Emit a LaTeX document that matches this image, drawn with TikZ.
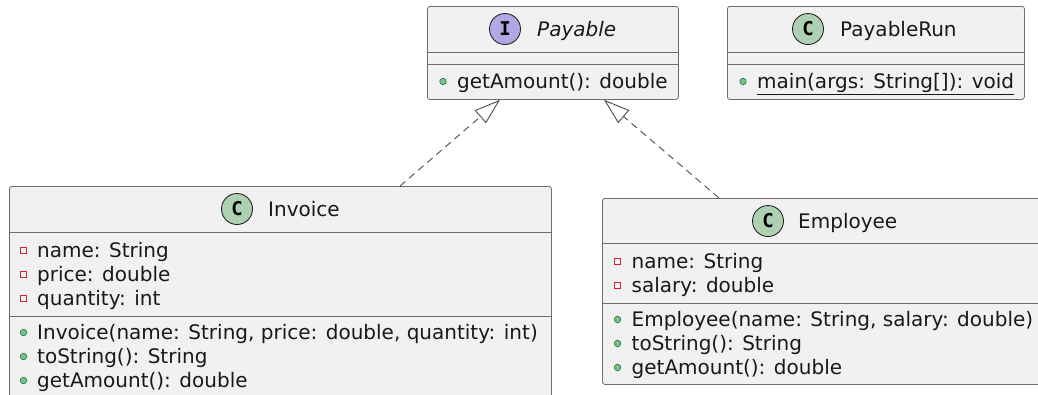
\documentclass[tikz,border=0pt]{standalone}
\usepackage{fontspec}
\setmainfont{DejaVu Sans}
\newfontfamily\iconfont{DejaVu Sans Mono}
\usetikzlibrary{arrows.meta,calc}

\definecolor{boxfill}{HTML}{F1F1F1}
\definecolor{boxline}{HTML}{6E6E6E}
\definecolor{classicon}{HTML}{ADD1B2}
\definecolor{ifaceicon}{HTML}{B4A7E5}
\definecolor{privred}{HTML}{C82930}
\definecolor{pubfill}{HTML}{84BE84}
\definecolor{publine}{HTML}{038048}

\tikzset{
  classbox/.style={draw=boxline, fill=boxfill, line width=0.8pt, rounded corners=2.5pt,
    inner sep=0pt, anchor=north west},
  sepline/.style={draw=boxline, line width=0.8pt},
  txt/.style={inner sep=0pt, anchor=base west, font=\fontsize{20}{24}\selectfont, text=black!90},
  icon/.style={circle, draw=black!85, line width=0.9pt, minimum size=31pt, inner sep=0pt,
    font=\iconfont\bfseries\fontsize{19}{19}\selectfont},
  privmark/.style={draw=privred, line width=0.8pt, minimum size=6.5pt, inner sep=0pt},
  pubmark/.style={circle, draw=publine, fill=pubfill, line width=0.6pt, minimum size=6.5pt, inner sep=0pt},
  realize/.style={draw=black!70, line width=0.9pt, dash pattern=on 7pt off 5pt,
    -{Triangle[open, length=26pt, width=17pt]}},
}

\begin{document}
\begin{tikzpicture}[x=1pt, y=-1pt]
\useasboundingbox (0,0) rectangle (1038,394);
\clip (0,0) rectangle (1038,394);

% --- interface Payable ---
\node[classbox, minimum width=251pt, minimum height=93pt] (pay) at (427,6) {};
\draw[sepline] ([yshift=-46pt]pay.north west) -- ([yshift=-46pt]pay.north east);
\draw[sepline] ([yshift=-58pt]pay.north west) -- ([yshift=-58pt]pay.north east);
\node[icon, fill=ifaceicon] (pay-icon) at (505,29) {I};
\node[txt] (pay-title) at (537,36) {\itshape Payable};
\node[pubmark] (pay-m1-vis) at (443,81.5) {};
\node[txt] (pay-m1) at (457,88) {getAmount(): double};

% --- class PayableRun ---
\node[classbox, minimum width=297pt, minimum height=93pt] (run) at (727,6) {};
\draw[sepline] ([yshift=-46pt]run.north west) -- ([yshift=-46pt]run.north east);
\draw[sepline] ([yshift=-58pt]run.north west) -- ([yshift=-58pt]run.north east);
\node[icon, fill=classicon] (run-icon) at (808,29) {C};
\node[txt] (run-title) at (840,36) {PayableRun};
\node[pubmark] (run-m1-vis) at (743,81.5) {};
\node[txt] (run-m1) at (757,88) {main(args: String[]): void};
\draw[line width=0.9pt, black!90] ([yshift=-6pt]run-m1.base west) -- ([yshift=-6pt]run-m1.base east);

% --- class Invoice ---
\node[classbox, minimum width=542pt, minimum height=211pt] (inv) at (9,186) {};
\draw[sepline] ([yshift=-46pt]inv.north west) -- ([yshift=-46pt]inv.north east);
\draw[sepline] ([yshift=-130pt]inv.north west) -- ([yshift=-130pt]inv.north east);
\node[icon, fill=classicon] (inv-icon) at (237,209) {C};
\node[txt] (inv-title) at (268,216) {Invoice};
\node[privmark] (inv-a1-vis) at (23.5,250.5) {};
\node[txt] (inv-a1) at (37,257) {name: String};
\node[privmark] (inv-a2-vis) at (23.5,274.5) {};
\node[txt] (inv-a2) at (37,281) {price: double};
\node[privmark] (inv-a3-vis) at (23.5,298.5) {};
\node[txt] (inv-a3) at (37,305) {quantity: int};
\node[pubmark] (inv-m1-vis) at (23.5,332.5) {};
\node[txt] (inv-m1) at (37,339) {Invoice(name: String, price: double, quantity: int)};
\node[pubmark] (inv-m2-vis) at (23.5,356.5) {};
\node[txt] (inv-m2) at (37,363) {toString(): String};
\node[pubmark] (inv-m3-vis) at (23.5,380.5) {};
\node[txt] (inv-m3) at (37,387) {getAmount(): double};

% --- class Employee ---
\node[classbox, minimum width=443pt, minimum height=186pt] (emp) at (602,198) {};
\draw[sepline] ([yshift=-45pt]emp.north west) -- ([yshift=-45pt]emp.north east);
\draw[sepline] ([yshift=-105pt]emp.north west) -- ([yshift=-105pt]emp.north east);
\node[icon, fill=classicon] (emp-icon) at (768,221) {C};
\node[txt] (emp-title) at (798,228) {Employee};
\node[privmark] (emp-a1-vis) at (617.5,261.5) {};
\node[txt] (emp-a1) at (631.5,268) {name: String};
\node[privmark] (emp-a2-vis) at (617.5,285.5) {};
\node[txt] (emp-a2) at (631.5,292) {salary: double};
\node[pubmark] (emp-m1-vis) at (617.5,319.5) {};
\node[txt] (emp-m1) at (631.5,326) {Employee(name: String, salary: double)};
\node[pubmark] (emp-m2-vis) at (617.5,343.5) {};
\node[txt] (emp-m2) at (631.5,350) {toString(): String};
\node[pubmark] (emp-m3-vis) at (617.5,367.5) {};
\node[txt] (emp-m3) at (631.5,374) {getAmount(): double};

% --- realizations of Payable ---
\draw[realize] ($(inv.north west)+(391,0)$) -- ($(pay.south west)+(73,0)$);
\draw[realize] ($(emp.north west)+(117,0)$) -- ($(pay.south west)+(177,0)$);
\end{tikzpicture}
\end{document}
